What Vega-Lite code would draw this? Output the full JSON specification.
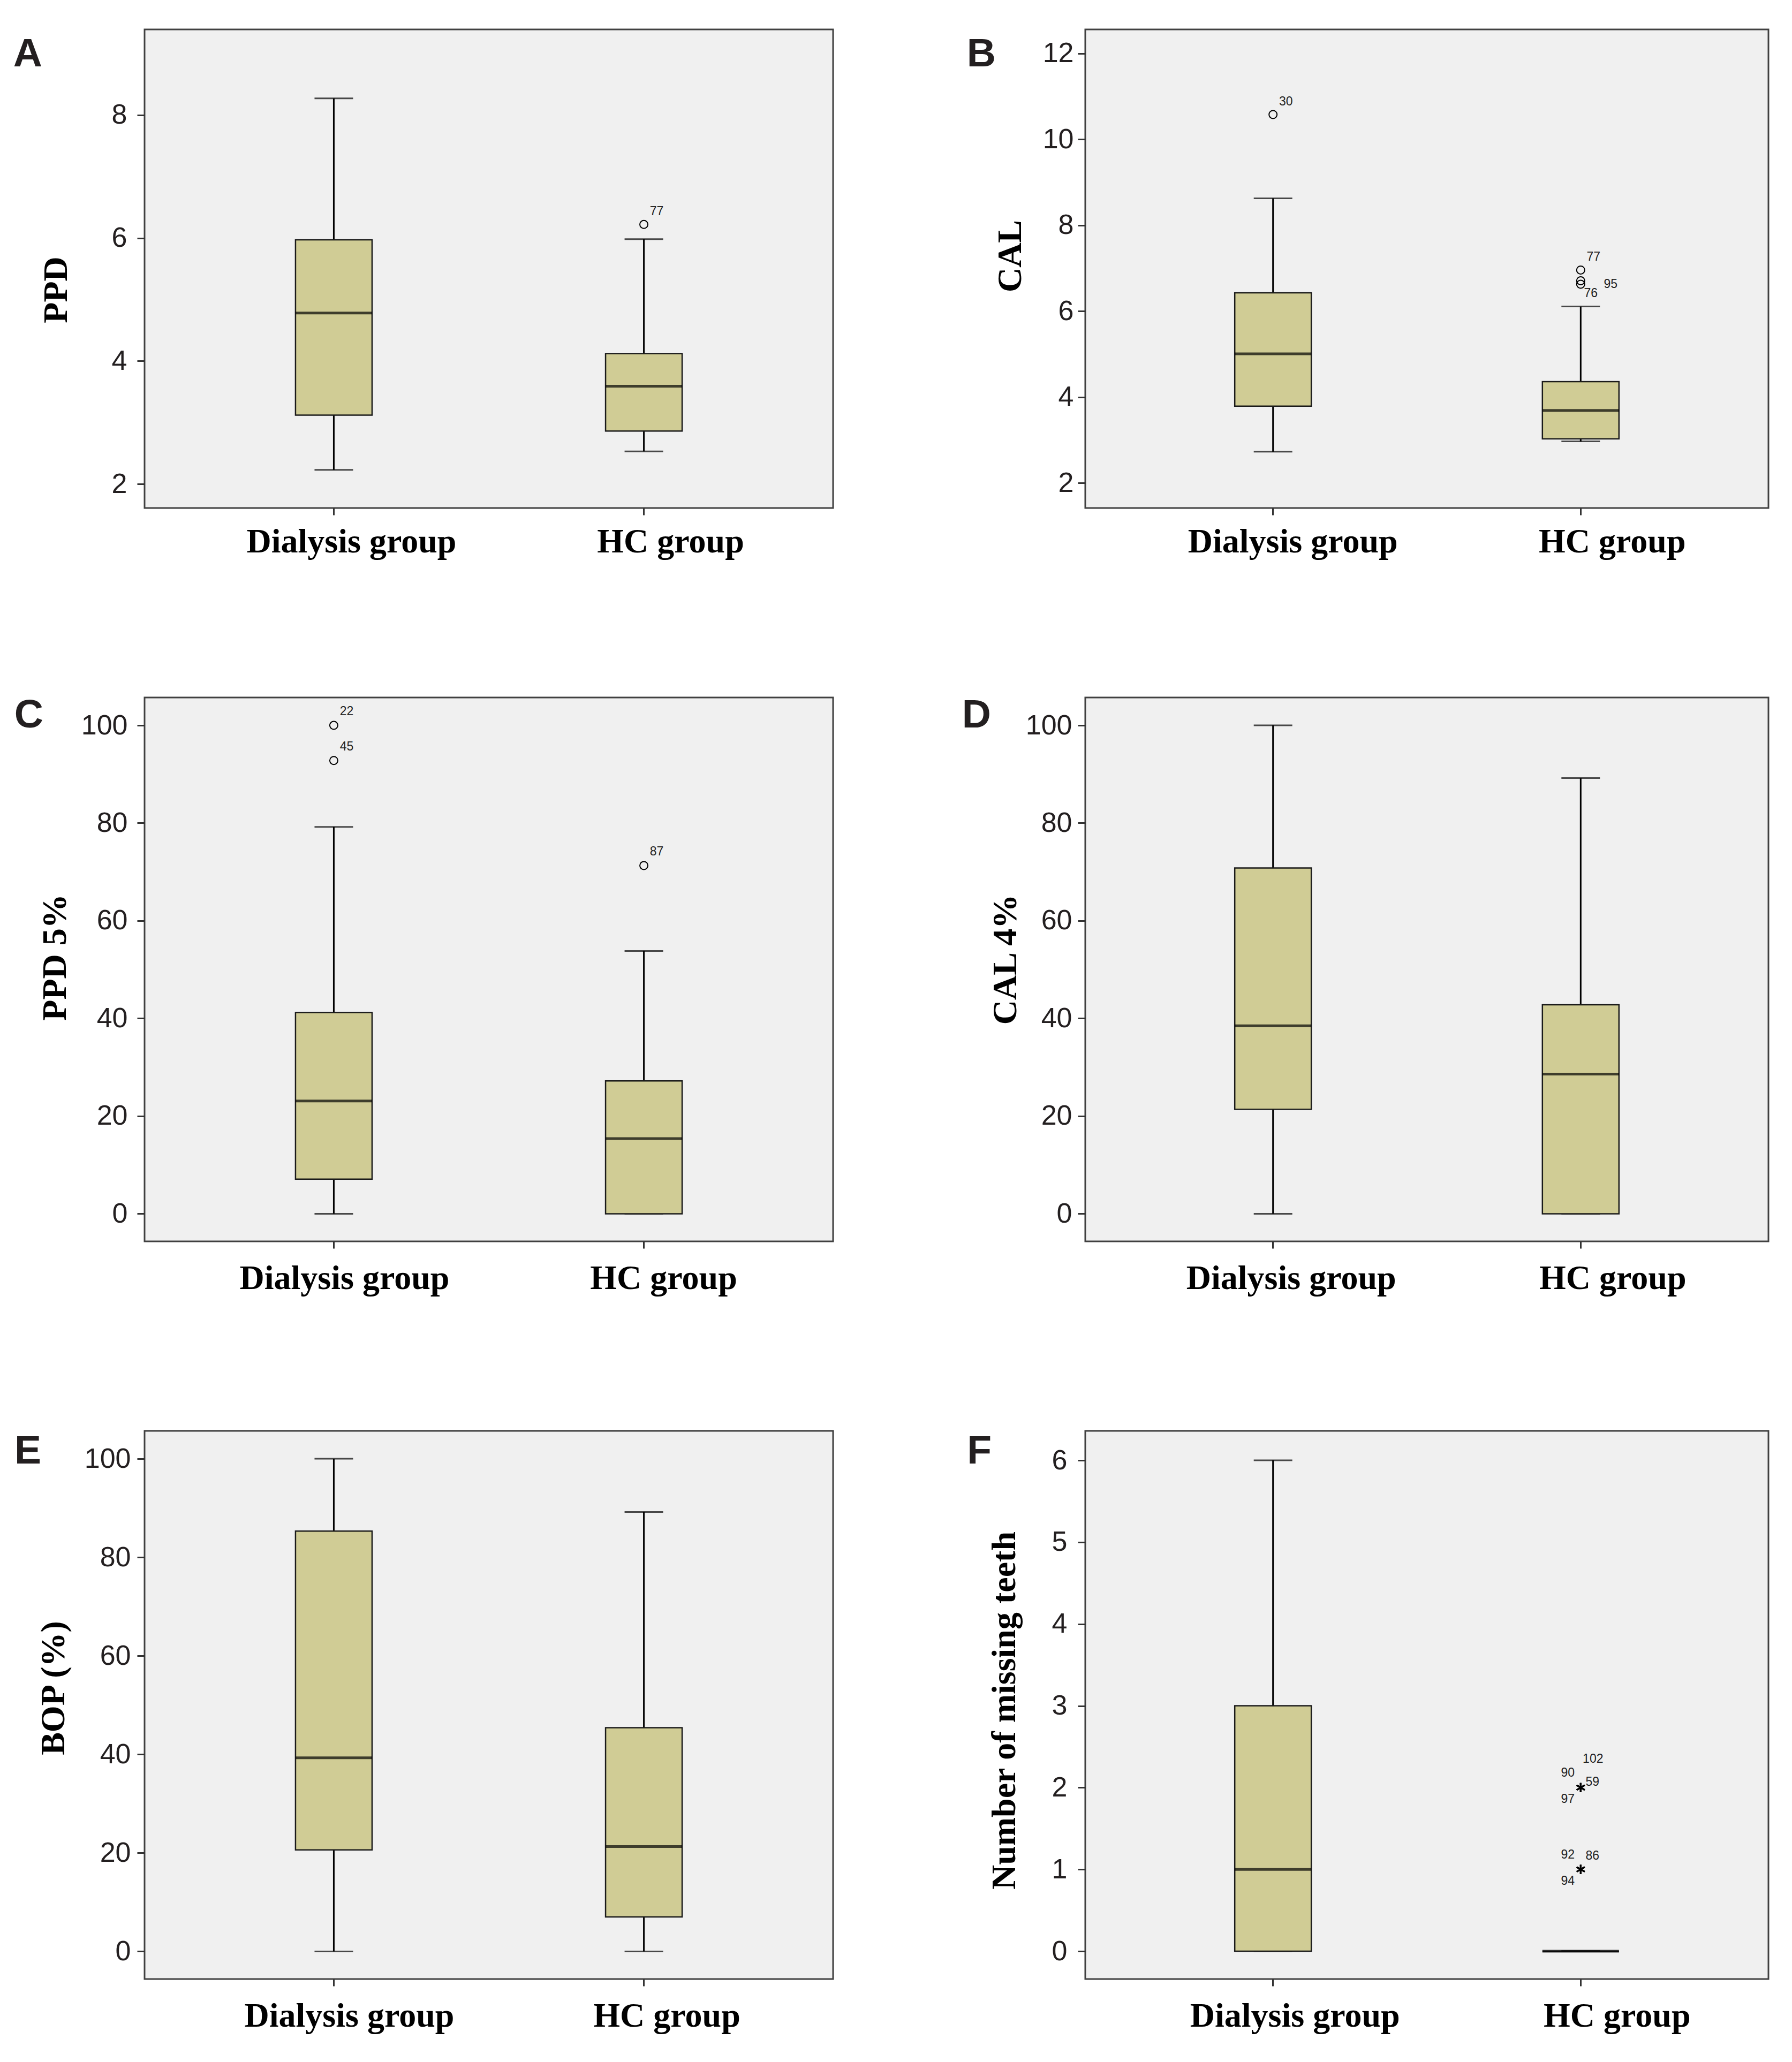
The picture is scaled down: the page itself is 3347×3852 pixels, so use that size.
{
  "$schema": "https://vega.github.io/schema/vega-lite/v6.json",
  "background": "white",
  "padding": {"left": 23, "top": 53, "right": 10, "bottom": 10},
  "autosize": {"type": "pad"},
  "columns": 2,
  "spacing": {"row": 354, "column": 471},
  "bounds": "flush",
  "align": "each",
  "datasets": {
    "boxes": [
      {"panel": "A", "group": "Dialysis group", "lower": 2.23, "q1": 3.12, "median": 4.78, "q3": 5.97, "upper": 8.27},
      {"panel": "A", "group": "HC group", "lower": 2.53, "q1": 2.86, "median": 3.59, "q3": 4.12, "upper": 5.98},
      {"panel": "B", "group": "Dialysis group", "lower": 2.73, "q1": 3.79, "median": 5.01, "q3": 6.43, "upper": 8.63},
      {"panel": "B", "group": "HC group", "lower": 2.97, "q1": 3.03, "median": 3.69, "q3": 4.36, "upper": 6.11},
      {"panel": "C", "group": "Dialysis group", "lower": 0, "q1": 7.1, "median": 23.1, "q3": 41.2, "upper": 79.2},
      {"panel": "C", "group": "HC group", "lower": 0, "q1": 0, "median": 15.4, "q3": 27.2, "upper": 53.8},
      {"panel": "D", "group": "Dialysis group", "lower": 0, "q1": 21.4, "median": 38.5, "q3": 70.8, "upper": 100},
      {"panel": "D", "group": "HC group", "lower": 0, "q1": 0, "median": 28.6, "q3": 42.8, "upper": 89.2},
      {"panel": "E", "group": "Dialysis group", "lower": 0, "q1": 20.6, "median": 39.3, "q3": 85.3, "upper": 100},
      {"panel": "E", "group": "HC group", "lower": 0, "q1": 7.0, "median": 21.3, "q3": 45.4, "upper": 89.2},
      {"panel": "F", "group": "Dialysis group", "lower": 0, "q1": 0, "median": 1, "q3": 3, "upper": 6},
      {"panel": "F", "group": "HC group", "lower": 0, "q1": 0, "median": 0, "q3": 0, "upper": 0}
    ],
    "outliers": [
      {"panel": "A", "group": "HC group", "value": 6.22, "id": "77"},
      {"panel": "B", "group": "Dialysis group", "value": 10.58, "id": "30"},
      {"panel": "B", "group": "HC group", "value": 6.96, "id": "77"},
      {"panel": "B", "group": "HC group", "value": 6.71, "id": "95"},
      {"panel": "B", "group": "HC group", "value": 6.63, "id": "76"},
      {"panel": "C", "group": "Dialysis group", "value": 100, "id": "22"},
      {"panel": "C", "group": "Dialysis group", "value": 92.8, "id": "45"},
      {"panel": "C", "group": "HC group", "value": 71.3, "id": "87"},
      {"panel": "F", "group": "HC group", "value": 2, "id": "102"},
      {"panel": "F", "group": "HC group", "value": 2, "id": "90"},
      {"panel": "F", "group": "HC group", "value": 2, "id": "59"},
      {"panel": "F", "group": "HC group", "value": 2, "id": "97"},
      {"panel": "F", "group": "HC group", "value": 1, "id": "92"},
      {"panel": "F", "group": "HC group", "value": 1, "id": "86"},
      {"panel": "F", "group": "HC group", "value": 1, "id": "94"}
    ]
  },
  "concat": [
    {
      "width": 1286, "height": 894,
      "title": {"text": "A", "orient": "left", "anchor": "end", "frame": "group", "angle": 0, "align": "left", "baseline": "alphabetic", "offset": -6, "dy": 69, "font": "Liberation Sans", "fontWeight": "bold", "fontSize": 75, "color": "#231f20"},
      "encoding": {"x": {"field": "group", "type": "nominal", "scale": {"domain": ["Dialysis group", "HC group"], "paddingInner": 0.5, "paddingOuter": 0.3603}, "axis": {"title": null, "labelAngle": 0, "labelLimit": 1000, "labelFont": "Liberation Serif", "labelFontWeight": "bold", "labelFontSize": 64, "labelColor": "#000000", "labelBaseline": "alphabetic", "labelPadding": 69, "labelOffset": {"condition": {"test": "datum.value === 'HC group'", "value": 50}, "value": 33}, "tickSize": 13, "tickWidth": 3, "tickColor": "#333333", "domain": false}}},
      "layer": [
        {"data": {"name": "boxes"}, "transform": [{"filter": "datum.panel === 'A'"}],
         "layer": [
          {"mark": {"type": "rule", "strokeWidth": 3, "color": "#000000"}, "encoding": {"y": {"field": "lower", "type": "quantitative", "scale": {"domain": [1.61, 9.39], "nice": false, "zero": false}, "axis": {"title": "PPD", "titleFont": "Liberation Serif", "titleFontWeight": "bold", "titleFontSize": 64, "titleColor": "#000000", "titleX": -146, "titleY": 486, "titleBaseline": "alphabetic", "titleAlign": "center", "values": [2, 4, 6, 8], "format": "d", "labelFont": "Liberation Sans", "labelFontSize": 52, "labelColor": "#231f20", "labelPadding": 19, "tickSize": 14, "tickWidth": 3, "tickColor": "#333333", "domain": false, "grid": false, "labelOverlap": false}}, "y2": {"field": "q1"}}},
          {"mark": {"type": "rule", "strokeWidth": 3, "color": "#000000"}, "encoding": {"y": {"field": "q3", "type": "quantitative"}, "y2": {"field": "upper"}}},
          {"mark": {"type": "tick", "size": 72, "thickness": 3, "color": "#000000"}, "encoding": {"y": {"field": "lower", "type": "quantitative"}}},
          {"mark": {"type": "tick", "size": 72, "thickness": 3, "color": "#000000"}, "encoding": {"y": {"field": "upper", "type": "quantitative"}}},
          {"mark": {"type": "bar", "width": 143, "fill": "#d0cc95", "stroke": "#1a1a1a", "strokeWidth": 2.5}, "encoding": {"y": {"field": "q1", "type": "quantitative"}, "y2": {"field": "q3"}}},
          {"mark": {"type": "tick", "size": 143, "thickness": 5, "color": "#000000"}, "encoding": {"y": {"field": "median", "type": "quantitative"}}}
         ]},
        {"data": {"name": "outliers"}, "transform": [{"filter": "datum.panel === 'A'"}],
         "layer": [
          {"mark": {"type": "point", "shape": "circle", "filled": false, "stroke": "#000000", "strokeWidth": 2, "size": 225, "opacity": 1}, "encoding": {"y": {"field": "value", "type": "quantitative"}}},
          {"mark": {"type": "text", "dx": 24, "dy": -24, "font": "Liberation Sans", "fontSize": 23, "color": "#222222", "align": "center", "baseline": "middle"}, "encoding": {"y": {"field": "value", "type": "quantitative"}, "text": {"field": "id"}}}
         ]}
      ]
    },
    {
      "width": 1276, "height": 894,
      "title": {"text": "B", "orient": "left", "anchor": "end", "frame": "group", "angle": 0, "align": "left", "baseline": "alphabetic", "offset": -5, "dy": 69, "font": "Liberation Sans", "fontWeight": "bold", "fontSize": 75, "color": "#231f20"},
      "encoding": {"x": {"field": "group", "type": "nominal", "scale": {"domain": ["Dialysis group", "HC group"], "paddingInner": 0.5, "paddingOuter": 0.3603}, "axis": {"title": null, "labelAngle": 0, "labelLimit": 1000, "labelFont": "Liberation Serif", "labelFontWeight": "bold", "labelFontSize": 64, "labelColor": "#000000", "labelBaseline": "alphabetic", "labelPadding": 69, "labelOffset": {"condition": {"test": "datum.value === 'HC group'", "value": 59}, "value": 37}, "tickSize": 13, "tickWidth": 3, "tickColor": "#333333", "domain": false}}},
      "layer": [
        {"data": {"name": "boxes"}, "transform": [{"filter": "datum.panel === 'B'"}],
         "layer": [
          {"mark": {"type": "rule", "strokeWidth": 3, "color": "#000000"}, "encoding": {"y": {"field": "lower", "type": "quantitative", "scale": {"domain": [1.42, 12.56], "nice": false, "zero": false}, "axis": {"title": "CAL", "titleFont": "Liberation Serif", "titleFontWeight": "bold", "titleFontSize": 64, "titleColor": "#000000", "titleX": -121, "titleY": 423, "titleBaseline": "alphabetic", "titleAlign": "center", "values": [2, 4, 6, 8, 10, 12], "format": "d", "labelFont": "Liberation Sans", "labelFontSize": 52, "labelColor": "#231f20", "labelPadding": 8, "tickSize": 14, "tickWidth": 3, "tickColor": "#333333", "domain": false, "grid": false, "labelOverlap": false}}, "y2": {"field": "q1"}}},
          {"mark": {"type": "rule", "strokeWidth": 3, "color": "#000000"}, "encoding": {"y": {"field": "q3", "type": "quantitative"}, "y2": {"field": "upper"}}},
          {"mark": {"type": "tick", "size": 72, "thickness": 3, "color": "#000000"}, "encoding": {"y": {"field": "lower", "type": "quantitative"}}},
          {"mark": {"type": "tick", "size": 72, "thickness": 3, "color": "#000000"}, "encoding": {"y": {"field": "upper", "type": "quantitative"}}},
          {"mark": {"type": "bar", "width": 143, "fill": "#d0cc95", "stroke": "#1a1a1a", "strokeWidth": 2.5}, "encoding": {"y": {"field": "q1", "type": "quantitative"}, "y2": {"field": "q3"}}},
          {"mark": {"type": "tick", "size": 143, "thickness": 5, "color": "#000000"}, "encoding": {"y": {"field": "median", "type": "quantitative"}}}
         ]},
        {"data": {"name": "outliers"}, "transform": [{"filter": "datum.panel === 'B'"}],
         "layer": [
          {"mark": {"type": "point", "shape": "circle", "filled": false, "stroke": "#000000", "strokeWidth": 2, "size": 225, "opacity": 1}, "encoding": {"y": {"field": "value", "type": "quantitative"}}},
          {"transform": [{"filter": "datum.id !== '95' && datum.id !== '76'"}], "mark": {"type": "text", "dx": 24, "dy": -24, "font": "Liberation Sans", "fontSize": 23, "color": "#222222", "align": "center", "baseline": "middle"}, "encoding": {"y": {"field": "value", "type": "quantitative"}, "text": {"field": "id"}}},
          {"transform": [{"filter": "datum.id === '95'"}], "mark": {"type": "text", "dx": 56, "dy": 7, "font": "Liberation Sans", "fontSize": 23, "color": "#222222", "align": "center", "baseline": "middle"}, "encoding": {"y": {"field": "value", "type": "quantitative"}, "text": {"field": "id"}}},
          {"transform": [{"filter": "datum.id === '76'"}], "mark": {"type": "text", "dx": 19, "dy": 17, "font": "Liberation Sans", "fontSize": 23, "color": "#222222", "align": "center", "baseline": "middle"}, "encoding": {"y": {"field": "value", "type": "quantitative"}, "text": {"field": "id"}}}
         ]}
      ]
    },
    {
      "width": 1286, "height": 1016,
      "title": {"text": "C", "orient": "left", "anchor": "end", "frame": "group", "angle": 0, "align": "left", "baseline": "alphabetic", "offset": -10, "dy": 56, "font": "Liberation Sans", "fontWeight": "bold", "fontSize": 75, "color": "#231f20"},
      "encoding": {"x": {"field": "group", "type": "nominal", "scale": {"domain": ["Dialysis group", "HC group"], "paddingInner": 0.5, "paddingOuter": 0.3603}, "axis": {"title": null, "labelAngle": 0, "labelLimit": 1000, "labelFont": "Liberation Serif", "labelFontWeight": "bold", "labelFontSize": 64, "labelColor": "#000000", "labelBaseline": "alphabetic", "labelPadding": 75, "labelOffset": {"condition": {"test": "datum.value === 'HC group'", "value": 37}, "value": 20}, "tickSize": 13, "tickWidth": 3, "tickColor": "#333333", "domain": false}}},
      "layer": [
        {"data": {"name": "boxes"}, "transform": [{"filter": "datum.panel === 'C'"}],
         "layer": [
          {"mark": {"type": "rule", "strokeWidth": 3, "color": "#000000"}, "encoding": {"y": {"field": "lower", "type": "quantitative", "scale": {"domain": [-5.65, 105.7], "nice": false, "zero": false}, "axis": {"title": "PPD 5%", "titleFont": "Liberation Serif", "titleFontWeight": "bold", "titleFontSize": 64, "titleColor": "#000000", "titleX": -148, "titleY": 485, "titleBaseline": "alphabetic", "titleAlign": "center", "values": [0, 20, 40, 60, 80, 100], "format": "d", "labelFont": "Liberation Sans", "labelFontSize": 52, "labelColor": "#231f20", "labelPadding": 18, "tickSize": 14, "tickWidth": 3, "tickColor": "#333333", "domain": false, "grid": false, "labelOverlap": false}}, "y2": {"field": "q1"}}},
          {"mark": {"type": "rule", "strokeWidth": 3, "color": "#000000"}, "encoding": {"y": {"field": "q3", "type": "quantitative"}, "y2": {"field": "upper"}}},
          {"mark": {"type": "tick", "size": 72, "thickness": 3, "color": "#000000"}, "encoding": {"y": {"field": "lower", "type": "quantitative"}}},
          {"mark": {"type": "tick", "size": 72, "thickness": 3, "color": "#000000"}, "encoding": {"y": {"field": "upper", "type": "quantitative"}}},
          {"mark": {"type": "bar", "width": 143, "fill": "#d0cc95", "stroke": "#1a1a1a", "strokeWidth": 2.5}, "encoding": {"y": {"field": "q1", "type": "quantitative"}, "y2": {"field": "q3"}}},
          {"mark": {"type": "tick", "size": 143, "thickness": 5, "color": "#000000"}, "encoding": {"y": {"field": "median", "type": "quantitative"}}}
         ]},
        {"data": {"name": "outliers"}, "transform": [{"filter": "datum.panel === 'C'"}],
         "layer": [
          {"mark": {"type": "point", "shape": "circle", "filled": false, "stroke": "#000000", "strokeWidth": 2, "size": 225, "opacity": 1}, "encoding": {"y": {"field": "value", "type": "quantitative"}}},
          {"mark": {"type": "text", "dx": 24, "dy": -26, "font": "Liberation Sans", "fontSize": 23, "color": "#222222", "align": "center", "baseline": "middle"}, "encoding": {"y": {"field": "value", "type": "quantitative"}, "text": {"field": "id"}}}
         ]}
      ]
    },
    {
      "width": 1276, "height": 1016,
      "title": {"text": "D", "orient": "left", "anchor": "end", "frame": "group", "angle": 0, "align": "left", "baseline": "alphabetic", "offset": -5, "dy": 56, "font": "Liberation Sans", "fontWeight": "bold", "fontSize": 75, "color": "#231f20"},
      "encoding": {"x": {"field": "group", "type": "nominal", "scale": {"domain": ["Dialysis group", "HC group"], "paddingInner": 0.5, "paddingOuter": 0.3603}, "axis": {"title": null, "labelAngle": 0, "labelLimit": 1000, "labelFont": "Liberation Serif", "labelFontWeight": "bold", "labelFontSize": 64, "labelColor": "#000000", "labelBaseline": "alphabetic", "labelPadding": 75, "labelOffset": {"condition": {"test": "datum.value === 'HC group'", "value": 60}, "value": 34}, "tickSize": 13, "tickWidth": 3, "tickColor": "#333333", "domain": false}}},
      "layer": [
        {"data": {"name": "boxes"}, "transform": [{"filter": "datum.panel === 'D'"}],
         "layer": [
          {"mark": {"type": "rule", "strokeWidth": 3, "color": "#000000"}, "encoding": {"y": {"field": "lower", "type": "quantitative", "scale": {"domain": [-5.65, 105.7], "nice": false, "zero": false}, "axis": {"title": "CAL 4%", "titleFont": "Liberation Serif", "titleFontWeight": "bold", "titleFontSize": 64, "titleColor": "#000000", "titleX": -130, "titleY": 489, "titleBaseline": "alphabetic", "titleAlign": "center", "values": [0, 20, 40, 60, 80, 100], "format": "d", "labelFont": "Liberation Sans", "labelFontSize": 52, "labelColor": "#231f20", "labelPadding": 11, "tickSize": 14, "tickWidth": 3, "tickColor": "#333333", "domain": false, "grid": false, "labelOverlap": false}}, "y2": {"field": "q1"}}},
          {"mark": {"type": "rule", "strokeWidth": 3, "color": "#000000"}, "encoding": {"y": {"field": "q3", "type": "quantitative"}, "y2": {"field": "upper"}}},
          {"mark": {"type": "tick", "size": 72, "thickness": 3, "color": "#000000"}, "encoding": {"y": {"field": "lower", "type": "quantitative"}}},
          {"mark": {"type": "tick", "size": 72, "thickness": 3, "color": "#000000"}, "encoding": {"y": {"field": "upper", "type": "quantitative"}}},
          {"mark": {"type": "bar", "width": 143, "fill": "#d0cc95", "stroke": "#1a1a1a", "strokeWidth": 2.5}, "encoding": {"y": {"field": "q1", "type": "quantitative"}, "y2": {"field": "q3"}}},
          {"mark": {"type": "tick", "size": 143, "thickness": 5, "color": "#000000"}, "encoding": {"y": {"field": "median", "type": "quantitative"}}}
         ]}
      ]
    },
    {
      "width": 1286, "height": 1024,
      "title": {"text": "E", "orient": "left", "anchor": "end", "frame": "group", "angle": 0, "align": "left", "baseline": "alphabetic", "offset": -9, "dy": 61, "font": "Liberation Sans", "fontWeight": "bold", "fontSize": 75, "color": "#231f20"},
      "encoding": {"x": {"field": "group", "type": "nominal", "scale": {"domain": ["Dialysis group", "HC group"], "paddingInner": 0.5, "paddingOuter": 0.3603}, "axis": {"title": null, "labelAngle": 0, "labelLimit": 1000, "labelFont": "Liberation Serif", "labelFontWeight": "bold", "labelFontSize": 64, "labelColor": "#000000", "labelBaseline": "alphabetic", "labelPadding": 75, "labelOffset": {"condition": {"test": "datum.value === 'HC group'", "value": 43}, "value": 29}, "tickSize": 13, "tickWidth": 3, "tickColor": "#333333", "domain": false}}},
      "layer": [
        {"data": {"name": "boxes"}, "transform": [{"filter": "datum.panel === 'E'"}],
         "layer": [
          {"mark": {"type": "rule", "strokeWidth": 3, "color": "#000000"}, "encoding": {"y": {"field": "lower", "type": "quantitative", "scale": {"domain": [-5.6, 105.65], "nice": false, "zero": false}, "axis": {"title": "BOP (%)", "titleFont": "Liberation Serif", "titleFontWeight": "bold", "titleFontSize": 64, "titleColor": "#000000", "titleX": -151, "titleY": 480, "titleBaseline": "alphabetic", "titleAlign": "center", "values": [0, 20, 40, 60, 80, 100], "format": "d", "labelFont": "Liberation Sans", "labelFontSize": 52, "labelColor": "#231f20", "labelPadding": 12, "tickSize": 14, "tickWidth": 3, "tickColor": "#333333", "domain": false, "grid": false, "labelOverlap": false}}, "y2": {"field": "q1"}}},
          {"mark": {"type": "rule", "strokeWidth": 3, "color": "#000000"}, "encoding": {"y": {"field": "q3", "type": "quantitative"}, "y2": {"field": "upper"}}},
          {"mark": {"type": "tick", "size": 72, "thickness": 3, "color": "#000000"}, "encoding": {"y": {"field": "lower", "type": "quantitative"}}},
          {"mark": {"type": "tick", "size": 72, "thickness": 3, "color": "#000000"}, "encoding": {"y": {"field": "upper", "type": "quantitative"}}},
          {"mark": {"type": "bar", "width": 143, "fill": "#d0cc95", "stroke": "#1a1a1a", "strokeWidth": 2.5}, "encoding": {"y": {"field": "q1", "type": "quantitative"}, "y2": {"field": "q3"}}},
          {"mark": {"type": "tick", "size": 143, "thickness": 5, "color": "#000000"}, "encoding": {"y": {"field": "median", "type": "quantitative"}}}
         ]}
      ]
    },
    {
      "width": 1276, "height": 1024,
      "title": {"text": "F", "orient": "left", "anchor": "end", "frame": "group", "angle": 0, "align": "left", "baseline": "alphabetic", "offset": -8, "dy": 61, "font": "Liberation Sans", "fontWeight": "bold", "fontSize": 75, "color": "#231f20"},
      "encoding": {"x": {"field": "group", "type": "nominal", "scale": {"domain": ["Dialysis group", "HC group"], "paddingInner": 0.5, "paddingOuter": 0.3603}, "axis": {"title": null, "labelAngle": 0, "labelLimit": 1000, "labelFont": "Liberation Serif", "labelFontWeight": "bold", "labelFontSize": 64, "labelColor": "#000000", "labelBaseline": "alphabetic", "labelPadding": 75, "labelOffset": {"condition": {"test": "datum.value === 'HC group'", "value": 68}, "value": 41}, "tickSize": 13, "tickWidth": 3, "tickColor": "#333333", "domain": false}}},
      "layer": [
        {"data": {"name": "boxes"}, "transform": [{"filter": "datum.panel === 'F'"}],
         "layer": [
          {"mark": {"type": "rule", "strokeWidth": 3, "color": "#000000"}, "encoding": {"y": {"field": "lower", "type": "quantitative", "scale": {"domain": [-0.34, 6.36], "nice": false, "zero": false}, "axis": {"title": "Number of missing teeth", "titleFont": "Liberation Serif", "titleFontWeight": "bold", "titleFontSize": 64, "titleColor": "#000000", "titleX": -132, "titleY": 522, "titleBaseline": "alphabetic", "titleAlign": "center", "values": [0, 1, 2, 3, 4, 5, 6], "format": "d", "labelFont": "Liberation Sans", "labelFontSize": 52, "labelColor": "#231f20", "labelPadding": 20, "tickSize": 14, "tickWidth": 3, "tickColor": "#333333", "domain": false, "grid": false, "labelOverlap": false}}, "y2": {"field": "q1"}}},
          {"mark": {"type": "rule", "strokeWidth": 3, "color": "#000000"}, "encoding": {"y": {"field": "q3", "type": "quantitative"}, "y2": {"field": "upper"}}},
          {"mark": {"type": "tick", "size": 72, "thickness": 3, "color": "#000000"}, "encoding": {"y": {"field": "lower", "type": "quantitative"}}},
          {"mark": {"type": "tick", "size": 72, "thickness": 3, "color": "#000000"}, "encoding": {"y": {"field": "upper", "type": "quantitative"}}},
          {"mark": {"type": "bar", "width": 143, "fill": "#d0cc95", "stroke": "#1a1a1a", "strokeWidth": 2.5}, "encoding": {"y": {"field": "q1", "type": "quantitative"}, "y2": {"field": "q3"}}},
          {"mark": {"type": "tick", "size": 143, "thickness": 5, "color": "#000000"}, "encoding": {"y": {"field": "median", "type": "quantitative"}}}
         ]},
        {"data": {"name": "outliers"}, "transform": [{"filter": "datum.panel === 'F'"}],
         "layer": [
          {"mark": {"type": "point", "shape": "M0,-1L0,1M-0.866,-0.5L0.866,0.5M-0.866,0.5L0.866,-0.5", "filled": false, "stroke": "#000000", "strokeWidth": 3, "size": 300, "opacity": 1}, "encoding": {"y": {"field": "value", "type": "quantitative"}}},
          {"transform": [{"filter": "datum.id === '102'"}], "mark": {"type": "text", "dx": 23, "dy": -53, "font": "Liberation Sans", "fontSize": 23, "color": "#222222", "align": "center", "baseline": "middle"}, "encoding": {"y": {"field": "value", "type": "quantitative"}, "text": {"field": "id"}}},
          {"transform": [{"filter": "datum.id === '59'"}], "mark": {"type": "text", "dx": 22, "dy": -10, "font": "Liberation Sans", "fontSize": 23, "color": "#222222", "align": "center", "baseline": "middle"}, "encoding": {"y": {"field": "value", "type": "quantitative"}, "text": {"field": "id"}}},
          {"transform": [{"filter": "datum.id === '86'"}], "mark": {"type": "text", "dx": 22, "dy": -25, "font": "Liberation Sans", "fontSize": 23, "color": "#222222", "align": "center", "baseline": "middle"}, "encoding": {"y": {"field": "value", "type": "quantitative"}, "text": {"field": "id"}}},
          {"transform": [{"filter": "datum.id === '90' || datum.id === '92'"}], "mark": {"type": "text", "dx": -24, "dy": -27, "font": "Liberation Sans", "fontSize": 23, "color": "#222222", "align": "center", "baseline": "middle"}, "encoding": {"y": {"field": "value", "type": "quantitative"}, "text": {"field": "id"}}},
          {"transform": [{"filter": "datum.id === '97' || datum.id === '94'"}], "mark": {"type": "text", "dx": -24, "dy": 22, "font": "Liberation Sans", "fontSize": 23, "color": "#222222", "align": "center", "baseline": "middle"}, "encoding": {"y": {"field": "value", "type": "quantitative"}, "text": {"field": "id"}}}
         ]}
      ]
    }
  ],
  "config": {
    "view": {"stroke": "#404040", "strokeWidth": 3, "fill": "#f0f0f0"},
    "axis": {"grid": false},
    "font": "Liberation Sans"
  }
}
